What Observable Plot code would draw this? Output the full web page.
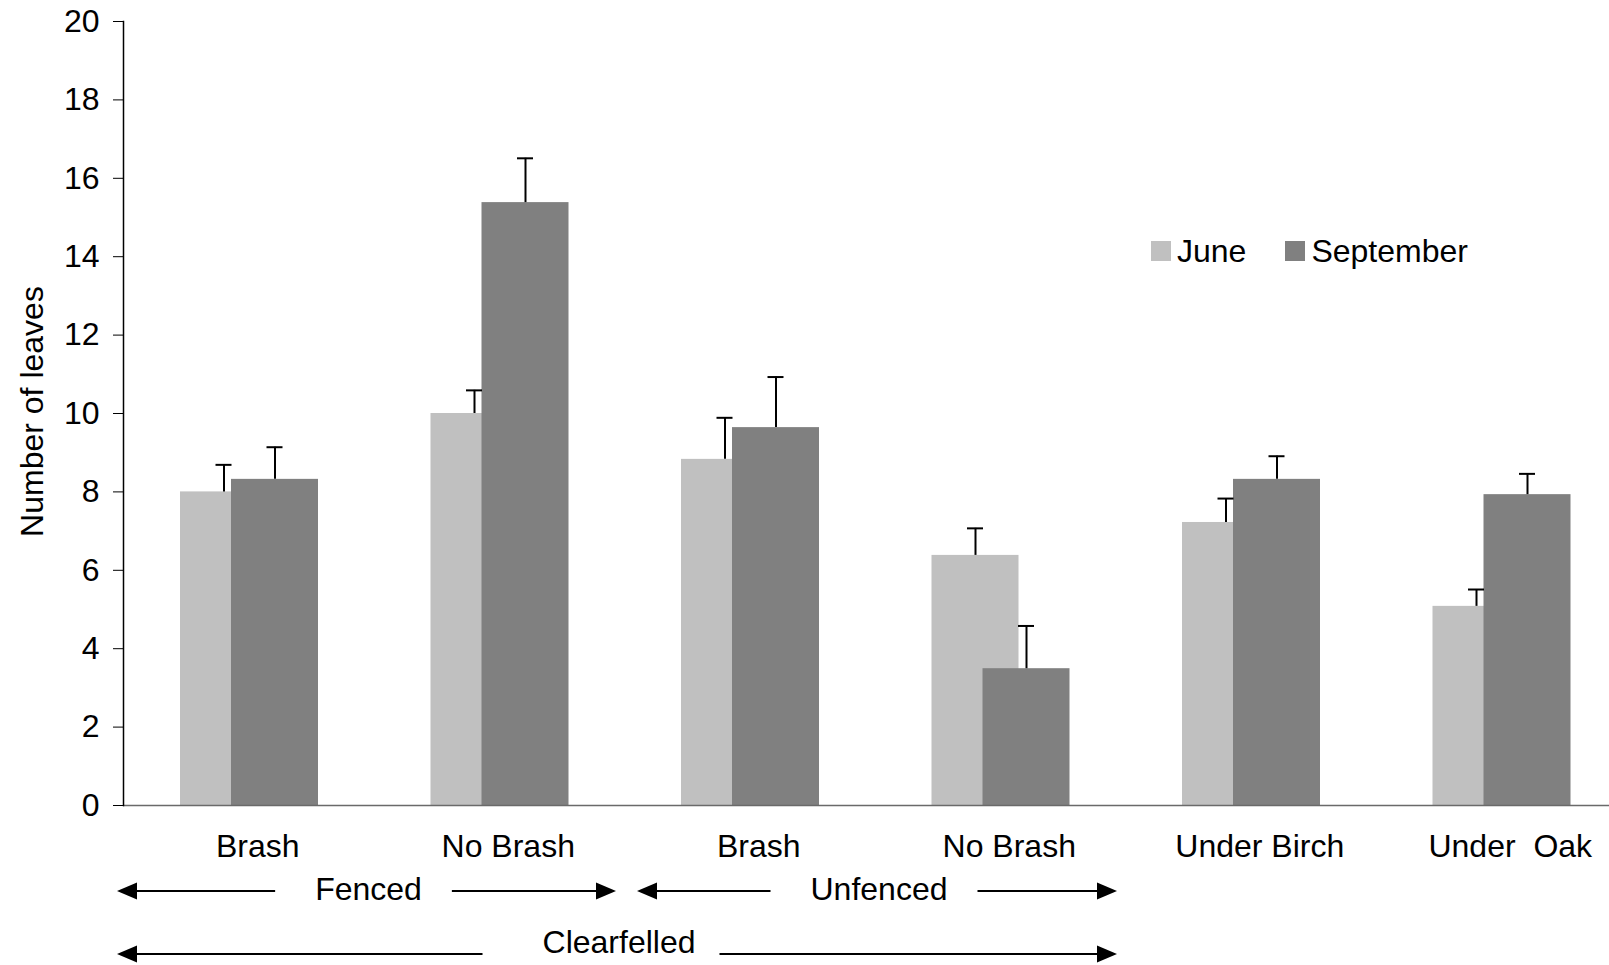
<!DOCTYPE html>
<html>
<head>
<meta charset="utf-8">
<script src="https://cdn.jsdelivr.net/npm/d3@7"></script>
<script src="https://cdn.jsdelivr.net/npm/@observablehq/plot@0.6"></script>
<style>
  html, body { margin: 0; padding: 0; background: #fff; overflow: hidden; }
  #chart { position: relative; width: 1609px; height: 965px; font-family: "Liberation Sans", Arial, sans-serif; }
  #legend { position: absolute; left: 1151px; top: 235px; }
  #legend .lg-swatches { font-family: "Liberation Sans", Arial, sans-serif !important; font-size: 32px !important; margin: 0 !important; color: #000; }
  #legend .lg-swatches-wrap { min-height: 0 !important; line-height: 32px; }
  #legend .lg-swatch { margin-right: 39px !important; }
  #legend .lg-swatch > svg { margin-right: 6px !important; }
</style>
</head>
<body>
<div id="chart"><div id="legend"></div></div>
<script>
// Treatments (unique keys) and the labels printed under each pair of bars
const categories = ["Fenced Brash", "Fenced No Brash", "Unfenced Brash", "Unfenced No Brash", "Under Birch", "Under Oak"];
const xLabels = ["Brash", "No Brash", "Brash", "No Brash", "Under Birch", "Under  Oak"];

// Mean number of leaves and standard error per sampling month
const seriesNames = ["June", "September"];
const juneMean = [8.00, 10.00, 8.83, 6.38, 7.22, 5.08];
const juneSE   = [0.69, 0.59, 1.06, 0.69, 0.61, 0.43];
const septMean = [8.32, 15.38, 9.64, 3.49, 8.32, 7.93];
const septSE   = [0.82, 1.13, 1.29, 1.09, 0.59, 0.53];

const yTicks = [0, 2, 4, 6, 8, 10, 12, 14, 16, 18, 20];

// Bracketed groupings drawn beneath the category labels
const fenceSpans = [
  {label: "Fenced", from: "Fenced Brash", to: "Fenced No Brash"},
  {label: "Unfenced", from: "Unfenced Brash", to: "Unfenced No Brash"}
];
const siteSpans = [
  {label: "Clearfelled", from: "Fenced Brash", to: "Unfenced No Brash"}
];

const rows = categories.map((category, i) => ({
  category,
  june: juneMean[i], juneTop: juneMean[i] + juneSE[i],
  sept: septMean[i], septTop: septMean[i] + septSE[i]
}));
const labelOf = new Map(categories.map((c, i) => [c, xLabels[i]]));

const FONT = '"Liberation Sans", Arial, sans-serif';
const JUNE = "#c0c0c0", SEPT = "#808080";
const W = 1609, H = 965;
const xLeft = 123, xRight = 1626;
const step = (xRight - xLeft) / categories.length;
// bar layout inside each band (pixels from the band start): September overlaps June
const juneStart = 57, juneEnd = 144, septStart = 108, septEnd = 195, capHalf = 8;
const juneCenter = (juneStart + juneEnd) / 2, septCenter = (septStart + septEnd) / 2;

const plot = Plot.plot({
  width: W, height: H,
  marginTop: 21, marginBottom: 160, marginLeft: xLeft, marginRight: 0,
  style: {fontFamily: FONT, fontSize: "32px", color: "#000", background: "#fff"},
  x: {type: "band", domain: categories, range: [xLeft, xRight], padding: 0, round: false},
  y: {domain: [0, 20]},
  marks: [
    Plot.barY(rows, {x: "category", y: "june", fill: JUNE, insetLeft: juneStart, insetRight: step - juneEnd}),
    Plot.barY(rows, {x: "category", y: "sept", fill: SEPT, insetLeft: septStart, insetRight: step - septEnd}),
    // upper error bars
    Plot.ruleX(rows, {x: "category", y1: "june", y2: "juneTop", dx: juneCenter - step / 2, stroke: "#000", strokeWidth: 2}),
    Plot.tickY(rows, {x: "category", y: "juneTop", insetLeft: juneCenter - capHalf, insetRight: step - juneCenter - capHalf, stroke: "#000", strokeWidth: 2}),
    Plot.ruleX(rows, {x: "category", y1: "sept", y2: "septTop", dx: septCenter - step / 2, stroke: "#000", strokeWidth: 2}),
    Plot.tickY(rows, {x: "category", y: "septTop", insetLeft: septCenter - capHalf, insetRight: step - septCenter - capHalf, stroke: "#000", strokeWidth: 2}),
    Plot.ruleY([0], {stroke: "#6a6a6a", strokeWidth: 1.5}),
    Plot.frame({anchor: "left", stroke: "#000", strokeWidth: 1.5}),
    Plot.axisY({ticks: yTicks, tickSize: 10, tickPadding: 14, label: null, fontSize: 32}),
    Plot.axisX({tickSize: 0, tickPadding: 29, tickFormat: c => labelOf.get(c), label: null, dx: 9, fontSize: 32}),
    Plot.text(["Number of leaves"], {text: d => d, frameAnchor: "left", textAnchor: "middle", rotate: -90, dx: -91, dy: -2, fontSize: 32})
  ]
});

const chart = document.getElementById("chart");
chart.insertBefore(plot, chart.firstChild);

// Legend
const legend = Plot.legend({
  color: {domain: seriesNames, range: [JUNE, SEPT]},
  legend: "swatches", swatchSize: 20, className: "lg"
});
document.getElementById("legend").appendChild(legend);

// Grouping arrows under the axis, positioned from the plot's own scales
const xs = plot.scale("x"), ys = plot.scale("y");
const bw = xs.bandwidth ?? step;
const base = ys.apply(0);
const svg = d3.select(plot);
const g = svg.append("g").attr("fill", "#000").attr("stroke", "#000");

function drawSpans(spans, lineY, textY, gapLeft, gapRight) {
  for (const s of spans) {
    const a = xs.apply(s.from), b = xs.apply(s.to) + bw;
    const left = s.from === categories[0] ? a - 6 : a + 13;
    const right = b - 8;
    const cx = (left + right) / 2 + 2;
    const t = g.append("text")
      .attr("x", cx).attr("y", textY).attr("dy", "0.35em")
      .attr("text-anchor", "middle").attr("stroke", "none")
      .attr("font-family", FONT).attr("font-size", 32)
      .text(s.label);
    const half = t.node().getComputedTextLength() / 2;
    const head = 20, hh = 8.5;
    g.append("line").attr("x1", left + head - 1).attr("x2", cx - half - gapLeft)
      .attr("y1", lineY).attr("y2", lineY).attr("stroke-width", 2);
    g.append("line").attr("x1", cx + half + gapRight).attr("x2", right - head + 1)
      .attr("y1", lineY).attr("y2", lineY).attr("stroke-width", 2);
    g.append("path").attr("stroke", "none")
      .attr("d", `M${left},${lineY}L${left + head},${lineY - hh}L${left + head},${lineY + hh}Z`);
    g.append("path").attr("stroke", "none")
      .attr("d", `M${right},${lineY}L${right - head},${lineY - hh}L${right - head},${lineY + hh}Z`);
  }
}
drawSpans(fenceSpans, base + 86, base + 84, 40, 30);
drawSpans(siteSpans, base + 149, base + 137, 60, 24);
</script>
</body>
</html>
